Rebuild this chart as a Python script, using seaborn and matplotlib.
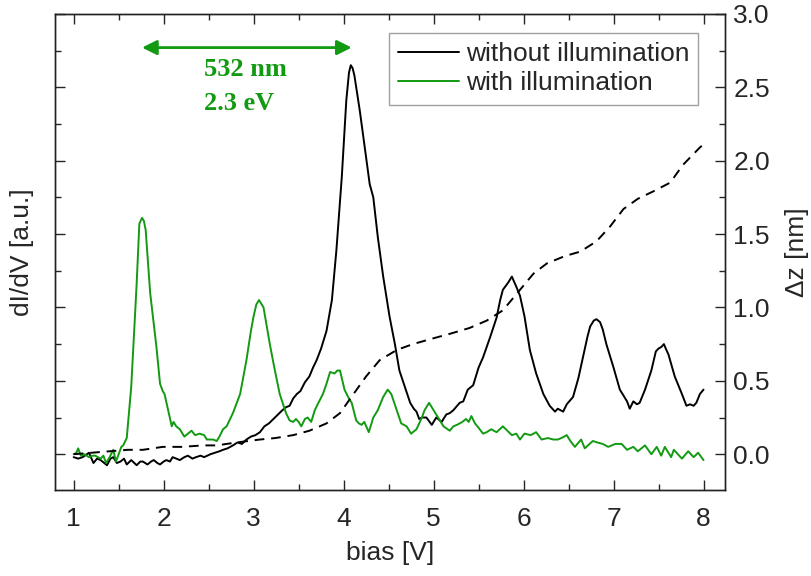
import matplotlib
matplotlib.use("Agg")
import matplotlib.pyplot as plt
from matplotlib.ticker import MultipleLocator, NullFormatter
import seaborn as sns
import pandas as pd

# dI/dV spectrum without illumination
bias_dark = [1.00, 1.05, 1.10, 1.17, 1.22, 1.26, 1.30, 1.37, 1.41, 1.44, 1.48, 1.52, 1.56, 1.59,
             1.64, 1.70, 1.74, 1.77, 1.82, 1.86, 1.89, 1.93, 1.96, 2.00, 2.03, 2.07, 2.10, 2.14,
             2.18, 2.23, 2.27, 2.32, 2.36, 2.41, 2.45, 2.52, 2.57, 2.62, 2.66, 2.71, 2.77, 2.82,
             2.87, 2.92, 2.97, 3.02, 3.07, 3.12, 3.17, 3.22, 3.27, 3.32, 3.36, 3.40, 3.44, 3.48,
             3.52, 3.57, 3.62, 3.66, 3.70, 3.75, 3.81, 3.87, 3.92, 3.98, 4.03, 4.06, 4.08, 4.10,
             4.12, 4.18, 4.24, 4.29, 4.33, 4.38, 4.44, 4.51, 4.57, 4.62, 4.68, 4.74, 4.78, 4.81,
             4.84, 4.87, 4.92, 4.98, 5.03, 5.09, 5.14, 5.18, 5.22, 5.29, 5.33, 5.38, 5.44, 5.50,
             5.55, 5.63, 5.70, 5.74, 5.77, 5.83, 5.87, 5.92, 5.96, 6.01, 6.07, 6.14, 6.22, 6.29,
             6.35, 6.38, 6.41, 6.44, 6.48, 6.55, 6.61, 6.66, 6.71, 6.74, 6.78, 6.81, 6.85, 6.88,
             6.92, 7.00, 7.07, 7.15, 7.18, 7.22, 7.26, 7.29, 7.35, 7.42, 7.47, 7.50, 7.53, 7.56,
             7.58, 7.61, 7.68, 7.76, 7.81, 7.85, 7.89, 7.92, 7.96, 8.00]
didv_dark = [-0.02, -0.03, -0.02, 0.01, -0.06, -0.03, -0.04, -0.075, -0.03, -0.02, -0.06, -0.05, -0.03, -0.07,
             -0.04, -0.075, -0.05, -0.05, -0.07, -0.05, -0.04, -0.06, -0.07, -0.05, -0.04, -0.05, -0.02, -0.03,
             -0.04, -0.02, -0.01, -0.03, -0.02, -0.01, -0.02, 0.00, 0.01, 0.02, 0.03, 0.04, 0.06, 0.08,
             0.07, 0.10, 0.12, 0.13, 0.15, 0.19, 0.21, 0.24, 0.27, 0.30, 0.32, 0.33, 0.38, 0.41,
             0.43, 0.49, 0.53, 0.59, 0.64, 0.72, 0.84, 1.05, 1.39, 1.89, 2.41, 2.60, 2.65, 2.63,
             2.58, 2.34, 2.07, 1.84, 1.75, 1.48, 1.21, 0.94, 0.75, 0.57, 0.46, 0.35, 0.31, 0.29,
             0.24, 0.25, 0.25, 0.20, 0.25, 0.22, 0.27, 0.28, 0.30, 0.35, 0.36, 0.44, 0.47, 0.59,
             0.66, 0.80, 0.93, 1.05, 1.12, 1.17, 1.21, 1.14, 1.08, 0.94, 0.71, 0.55, 0.41, 0.33,
             0.29, 0.31, 0.30, 0.29, 0.34, 0.39, 0.52, 0.66, 0.80, 0.87, 0.91, 0.92, 0.90, 0.85,
             0.75, 0.59, 0.44, 0.36, 0.31, 0.36, 0.34, 0.35, 0.44, 0.57, 0.70, 0.72, 0.73, 0.75,
             0.72, 0.68, 0.53, 0.41, 0.33, 0.34, 0.33, 0.35, 0.41, 0.44]

# dI/dV spectrum with 532 nm illumination
bias_light = [1.00, 1.03, 1.05, 1.08, 1.12, 1.17, 1.21, 1.24, 1.30, 1.33, 1.36, 1.40, 1.44, 1.47,
              1.50, 1.53, 1.55, 1.59, 1.64, 1.70, 1.73, 1.76, 1.78, 1.80, 1.85, 1.92, 1.96, 1.99,
              2.01, 2.05, 2.09, 2.11, 2.14, 2.18, 2.23, 2.27, 2.31, 2.35, 2.40, 2.45, 2.48, 2.52,
              2.55, 2.59, 2.62, 2.66, 2.70, 2.77, 2.85, 2.92, 2.97, 3.00, 3.03, 3.06, 3.11, 3.18,
              3.23, 3.29, 3.36, 3.40, 3.44, 3.47, 3.50, 3.53, 3.57, 3.60, 3.64, 3.68, 3.72, 3.77,
              3.81, 3.85, 3.90, 3.93, 3.96, 4.01, 4.05, 4.09, 4.14, 4.17, 4.20, 4.23, 4.28, 4.33,
              4.38, 4.44, 4.49, 4.53, 4.59, 4.64, 4.67, 4.70, 4.75, 4.81, 4.87, 4.90, 4.95, 4.99,
              5.02, 5.05, 5.11, 5.18, 5.22, 5.26, 5.29, 5.32, 5.36, 5.39, 5.42, 5.46, 5.50, 5.55,
              5.59, 5.64, 5.70, 5.77, 5.82, 5.87, 5.92, 5.96, 6.01, 6.08, 6.14, 6.20, 6.27, 6.33,
              6.38, 6.42, 6.48, 6.52, 6.57, 6.64, 6.68, 6.77, 6.82, 6.88, 6.94, 7.02, 7.09, 7.15,
              7.22, 7.27, 7.35, 7.42, 7.48, 7.53, 7.57, 7.64, 7.67, 7.76, 7.83, 7.89, 7.94, 8.00]
didv_light = [0.00, 0.01, 0.04, -0.01, 0.00, -0.02, -0.01, -0.01, -0.03, -0.01, -0.06, -0.02, 0.03, -0.05,
              0.00, 0.05, 0.06, 0.11, 0.46, 1.16, 1.57, 1.61, 1.59, 1.53, 1.10, 0.73, 0.48, 0.43,
              0.41, 0.30, 0.19, 0.22, 0.19, 0.17, 0.12, 0.14, 0.16, 0.13, 0.14, 0.13, 0.10, 0.10,
              0.10, 0.09, 0.12, 0.17, 0.19, 0.28, 0.41, 0.64, 0.84, 0.94, 1.02, 1.05, 1.00, 0.75,
              0.59, 0.41, 0.28, 0.23, 0.22, 0.24, 0.22, 0.19, 0.24, 0.25, 0.22, 0.30, 0.35, 0.41,
              0.48, 0.56, 0.55, 0.57, 0.57, 0.44, 0.39, 0.35, 0.23, 0.21, 0.20, 0.22, 0.15, 0.25,
              0.30, 0.39, 0.44, 0.41, 0.30, 0.21, 0.20, 0.19, 0.14, 0.17, 0.25, 0.30, 0.35, 0.31,
              0.28, 0.25, 0.19, 0.16, 0.19, 0.20, 0.21, 0.22, 0.24, 0.22, 0.26, 0.21, 0.18, 0.14,
              0.15, 0.17, 0.15, 0.19, 0.16, 0.13, 0.14, 0.10, 0.14, 0.13, 0.15, 0.10, 0.11, 0.10,
              0.10, 0.11, 0.13, 0.09, 0.05, 0.10, 0.04, 0.09, 0.08, 0.07, 0.05, 0.07, 0.07, 0.03,
              0.05, 0.02, 0.06, 0.00, 0.05, -0.01, 0.05, -0.02, 0.03, -0.03, 0.02, -0.02, 0.01, -0.04]

# tip height change during the spectrum (right axis, nm)
bias_z = [1.00, 1.20, 1.40, 1.60, 1.77, 1.99, 2.20, 2.44, 2.59, 2.81, 3.07, 3.24, 3.44, 3.62,
          3.81, 3.96, 4.11, 4.25, 4.40, 4.59, 4.77, 5.00, 5.18, 5.40, 5.59, 5.77, 5.92, 6.11,
          6.26, 6.46, 6.63, 6.81, 6.96, 7.11, 7.27, 7.44, 7.63, 7.77, 7.96, 8.00]
delta_z = [0.00, 0.01, 0.02, 0.03, 0.03, 0.05, 0.05, 0.06, 0.06, 0.08, 0.10, 0.11, 0.13, 0.16,
           0.21, 0.28, 0.41, 0.53, 0.64, 0.71, 0.75, 0.79, 0.82, 0.86, 0.91, 0.98, 1.09, 1.23,
           1.30, 1.35, 1.38, 1.45, 1.55, 1.67, 1.74, 1.79, 1.85, 1.97, 2.09, 2.11]

right_ticks = [0.0, 0.5, 1.0, 1.5, 2.0, 2.5, 3.0]
right_tick_labels = ["0.0", "0.5", "1.0", "1.5", "2.0", "2.5", "3.0"]
x_ticks = [1, 2, 3, 4, 5, 6, 7, 8]

GREEN = "#129a12"
TICK_FS = 19
LABEL_FS = 19

sns.set_style("ticks")
plt.rcParams["font.family"] = ["Liberation Sans", "DejaVu Sans"]
plt.rcParams["font.size"] = TICK_FS

fig = plt.figure(figsize=(8.12, 5.76), dpi=100)
ax = fig.add_axes([0.068, 0.149, 0.825, 0.827])
ax2 = ax.twinx()

dark = pd.DataFrame({"bias": bias_dark, "didv": didv_dark})
light = pd.DataFrame({"bias": bias_light, "didv": didv_light})
zdat = pd.DataFrame({"bias": bias_z, "dz": delta_z})

sns.lineplot(data=dark, x="bias", y="didv", ax=ax, color="black", lw=1.4,
             label="without illumination", sort=False)
sns.lineplot(data=light, x="bias", y="didv", ax=ax, color=GREEN, lw=1.4,
             label="with illumination", sort=False)
sns.lineplot(data=zdat, x="bias", y="dz", ax=ax2, color="black", lw=1.4,
             sort=False, legend=False)
ax2.lines[0].set_dashes([5, 3.5])

ylim = (-0.245, 3.0)
for a in (ax, ax2):
    a.set_xlim(0.795, 8.24)
    a.set_ylim(*ylim)
    for s in a.spines.values():
        s.set_linewidth(1.0)
        s.set_color("#222222")

ax.set_xticks(x_ticks)
ax.set_xticklabels([str(t) for t in x_ticks])
ax.xaxis.set_minor_locator(MultipleLocator(0.5))
ax.yaxis.set_major_locator(MultipleLocator(0.5))
ax.yaxis.set_minor_locator(MultipleLocator(0.25))
ax.yaxis.set_major_formatter(NullFormatter())
ax.tick_params(axis="both", which="major", direction="in", length=7, width=1,
               top=True, right=False, labelsize=TICK_FS)
ax.tick_params(axis="x", which="major", pad=12)
ax.tick_params(axis="both", which="minor", direction="in", length=4, width=1,
               top=True, right=False)

ax2.set_yticks(right_ticks)
ax2.set_yticklabels(right_tick_labels)
ax2.yaxis.set_minor_locator(MultipleLocator(0.25))
ax2.tick_params(axis="y", which="major", direction="in", length=7, width=1,
                labelsize=TICK_FS, pad=6)
ax2.tick_params(axis="y", which="minor", direction="in", length=4, width=1)

ax.set_xlabel("bias [V]", fontsize=LABEL_FS, labelpad=7)
ax.set_ylabel("dI/dV [a.u.]", fontsize=LABEL_FS, labelpad=12)
ax2.set_ylabel("\u0394z [nm]", fontsize=LABEL_FS, labelpad=11)

# photon energy marker
ax.annotate("", xy=(1.76, 2.77), xytext=(4.09, 2.77),
            arrowprops=dict(arrowstyle="<|-|>", color=GREEN, lw=2, mutation_scale=22,
                            shrinkA=0, shrinkB=0))
ax.text(2.45, 2.62, "532 nm", color=GREEN, fontsize=19, fontweight="bold",
        family="Liberation Serif", ha="left", va="center")
ax.text(2.45, 2.39, "2.3 eV", color=GREEN, fontsize=19, fontweight="bold",
        family="Liberation Serif", ha="left", va="center")

leg = ax.legend(loc="upper right", bbox_to_anchor=(0.96, 0.96), borderaxespad=0,
                fontsize=LABEL_FS, frameon=True, fancybox=False, handlelength=2.3,
                handletextpad=0.25, borderpad=0.35, labelspacing=0.2)
leg.get_frame().set_edgecolor("#888888")
leg.get_frame().set_linewidth(1.0)

fig.savefig("out.png", dpi=100)
